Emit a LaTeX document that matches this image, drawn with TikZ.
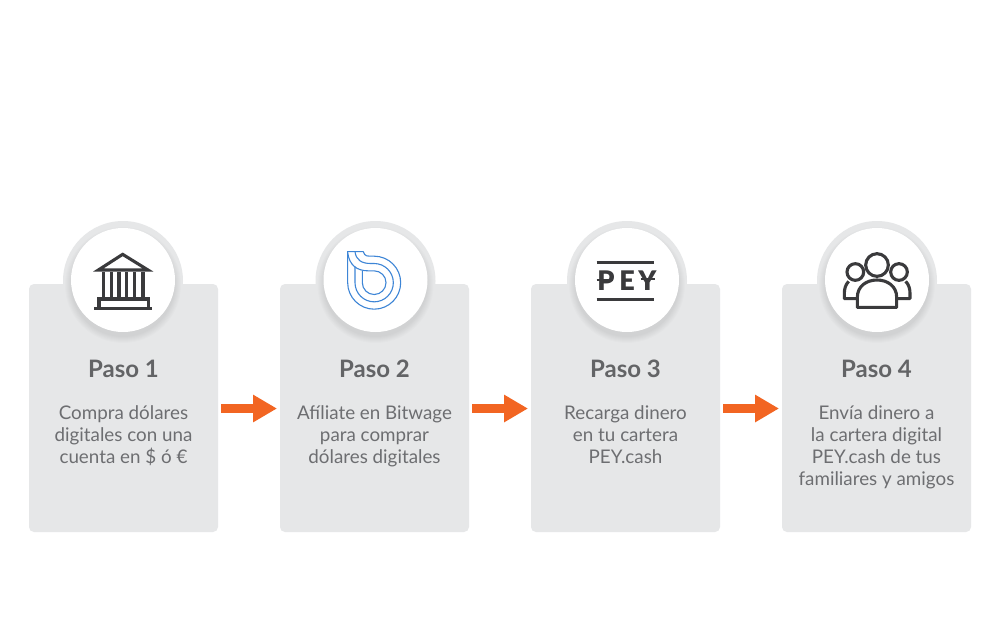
\documentclass[tikz,border=0pt]{standalone}
\usepackage{fontspec}
\setmainfont{Lato}
\newfontfamily\peyfont{Lato Black}
\usetikzlibrary{arrows.meta}
\definecolor{cardgray}{HTML}{E6E7E8}
\definecolor{txtgray}{HTML}{6D6E71}
\definecolor{headgray}{HTML}{636466}
\definecolor{icondark}{HTML}{3A3A3C}
\definecolor{bitblue}{HTML}{3D85D6}
\definecolor{arroworange}{HTML}{F26522}
\tikzset{
  card/.style={rectangle,rounded corners=5pt,fill=cardgray,minimum width=189pt,minimum height=248pt,inner sep=0pt,outer sep=0pt},
  halo/.style={circle,fill=cardgray,minimum size=120pt,inner sep=0pt},
  disc/.style={circle,fill=white,minimum size=104pt,inner sep=0pt},
  heading/.style={font=\fontsize{24}{26}\selectfont\bfseries,text=headgray,anchor=base,inner sep=0pt},
  body/.style={font=\fontsize{18.8}{22.2}\selectfont,text=txtgray,align=center,anchor=north,inner sep=0pt},
  flow/.style={draw=arroworange,line width=9.5pt,shorten <=3pt,shorten >=3pt,-{Triangle[length=24pt,width=26pt]}},
  icon/.style={draw=icondark,line width=3.1pt},
  bw/.style={draw=bitblue,line width=1.1pt},
  peyletter/.style={font=\peyfont\fontsize{27}{27}\selectfont,text=icondark,inner sep=0pt},
  zoomed/.style={x=0.33333pt,y=-0.33333pt}
}
\newcommand{\softshadow}[2]{%
  \foreach \r in {52,53,54,55,56,57,58}{\fill[black,opacity=0.012] (#1,#2+5) circle[radius=\r];}%
}
\begin{document}
\begin{tikzpicture}[x=1pt,y=-1pt]
\useasboundingbox (0,0) rectangle (1000,625);
\fill[white] (0,0) rectangle (1000,625);
\node[card] (c1) at (123.5,408) {};
\node[card] (c2) at (374.5,408) {};
\node[card] (c3) at (625.5,408) {};
\node[card] (c4) at (876.5,408) {};
\node[halo] (h1) at (123,281) {};
\node[halo] (h2) at (375.5,281) {};
\node[halo] (h3) at (627,281) {};
\node[halo] (h4) at (877,281) {};
\softshadow{123}{280}\softshadow{375.5}{280}\softshadow{627}{280}\softshadow{877}{280}
\node[disc] (d1) at (123,280) {};
\node[disc] (d2) at (375.5,280) {};
\node[disc] (d3) at (627,280) {};
\node[disc] (d4) at (877,280) {};
\draw[flow] (c1.east |- 0,408.5) -- (c2.west |- 0,408.5);
\draw[flow] (c2.east |- 0,408.5) -- (c3.west |- 0,408.5);
\draw[flow] (c3.east |- 0,408.5) -- (c4.west |- 0,408.5);
\node[heading] (p1) at (123.5,377.5) {Paso 1};
\node[heading] (p2) at (374.5,377.5) {Paso 2};
\node[heading] (p3) at (625.5,377.5) {Paso 3};
\node[heading] (p4) at (876.5,377.5) {Paso 4};
\node[body] (b1) at (123.5,405) {Compra dólares\\digitales con una\\cuenta en \$ ó €};
\node[body] (b2) at (374.5,405) {Afíliate en Bitwage\\para comprar\\dólares digitales};
\node[body] (b3) at (625.5,405) {Recarga dinero\\en tu cartera\\PEY.cash};
\node[body] (b4) at (876.5,405) {Envía dinero a\\la cartera digital\\PEY.cash de tus\\familiares y amigos};
% bank icon
\begin{scope}[shift={(50,210)},zoomed]
\draw[icon,line join=miter] (145,180) -- (218,133) -- (294,180) -- cycle;
\foreach \cx in {160,184,207,230,253,279}{\draw[icon] (\cx,186) -- (\cx,265);}
\draw[icon] (147,292) -- (147,267) -- (295,267) -- (295,292);
\draw[icon] (132,296) -- (307,296);
\end{scope}
% bitwage icon
\begin{scope}[shift={(300,210)},zoomed]
\draw[bw,line join=miter] (190,125) -- (143,125) -- (143,218)
  arc[start angle=180,end angle=-90,radius=79.5]
  .. controls (200,138.5) and (195,140) .. (190,125);
\draw[bw] (165,170) -- (165,218)
  arc[start angle=180,end angle=-90,radius=57.5]
  -- (212,160.5) .. controls (185,160.5) and (168,150) .. (165,125);
\draw[bw] (187,183) -- (187,218)
  arc[start angle=180,end angle=-90,radius=35.5]
  -- (205,182.5) .. controls (170,182.5) and (148,165) .. (143,128);
\end{scope}
% PEY icon
\begin{scope}[shift={(550,210)},zoomed]
\draw[icon,line width=3.3pt] (140,157) -- (312,157);
\draw[icon,line width=3.3pt] (140,268) -- (312,268);
\node[peyletter] (lp) at (168,212) {P};
\node[peyletter] (le) at (231,212) {E};
\node[peyletter] (ly) at (292,212) {Y};
\draw[draw=icondark,line width=2.2pt] (140,210) -- (190,210);
\draw[draw=icondark,line width=2.2pt] (272,208) -- (314,208);
\end{scope}
% people icon
\begin{scope}[shift={(800,210)},zoomed]
\draw[icon,line join=round] (146,214) .. controls (136,224) and (133,238) .. (133,250) -- (133,266) -- (170,266);
\draw[icon,line join=round] (317,214) .. controls (327,224) and (330,238) .. (330,250) -- (330,266) -- (292,266);
\draw[icon] (166,186) circle[radius=25];
\draw[icon] (297,186) circle[radius=25];
\fill[white] (231,165) circle[radius=36];
\draw[icon] (231,165) circle[radius=34];
\draw[icon,fill=white,line join=round] (172,292) -- (172,262) .. controls (172,228) and (200,210) .. (231,210) .. controls (262,210) and (290,228) .. (290,262) -- (290,292) -- cycle;
\end{scope}
\end{tikzpicture}
\end{document}
